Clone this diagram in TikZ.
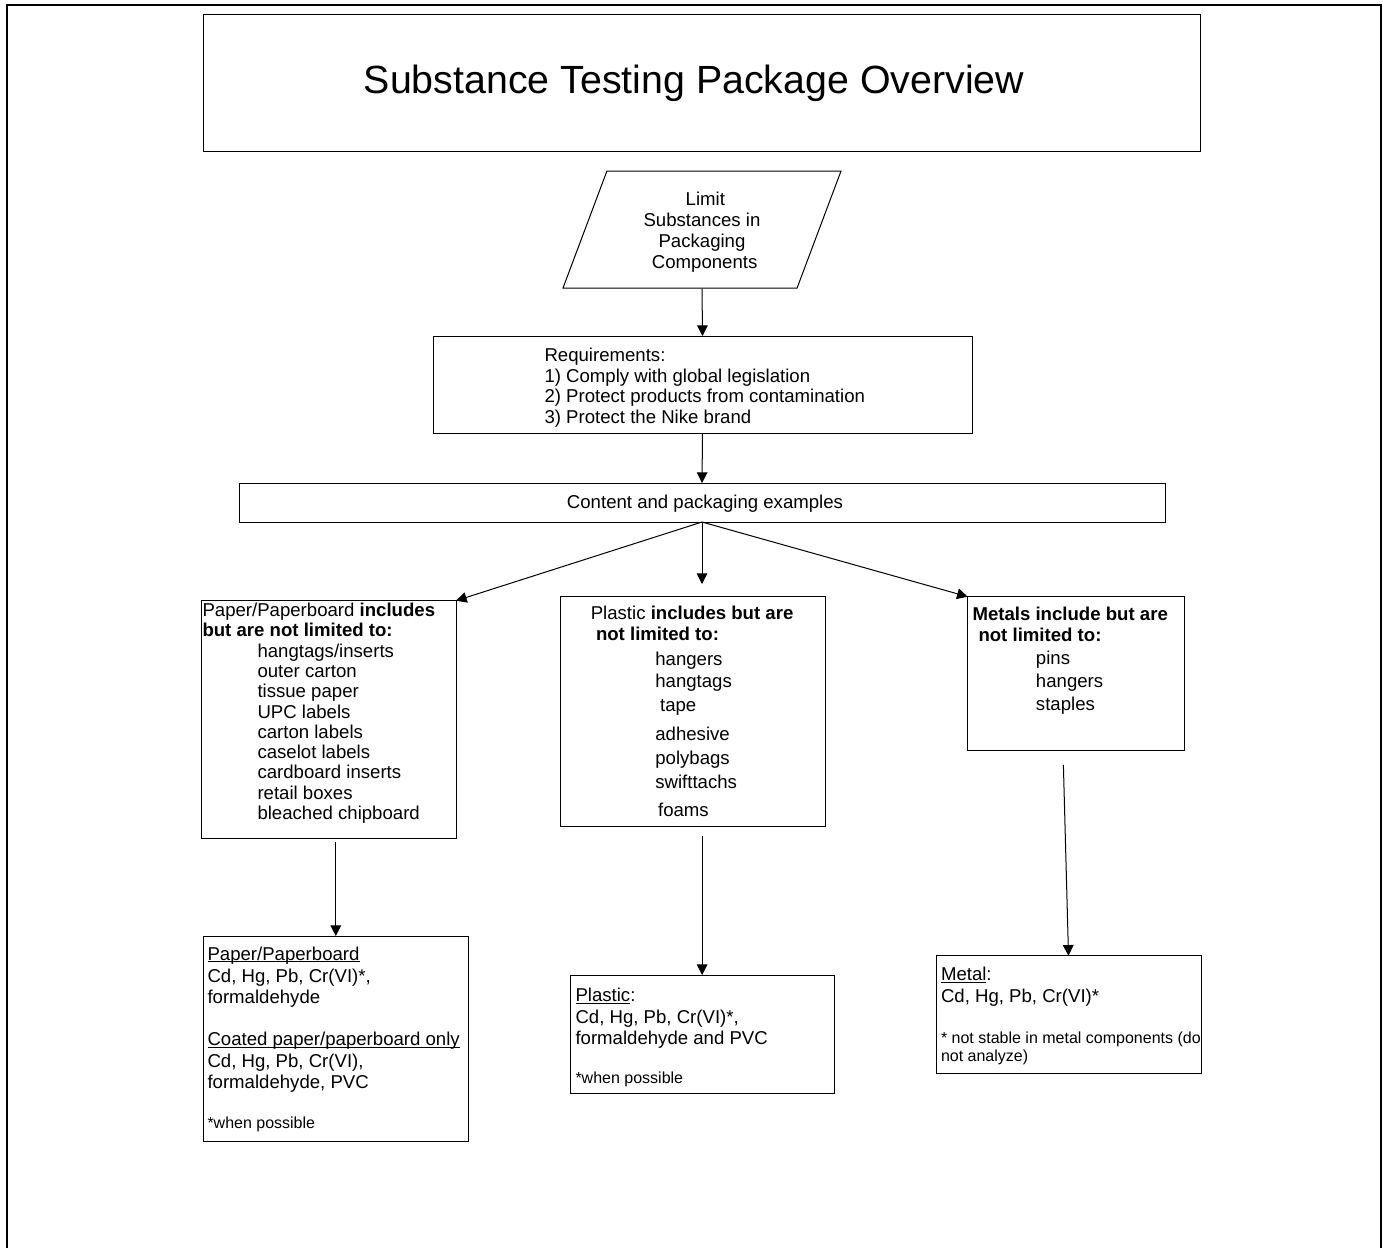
\documentclass[tikz,border=0pt]{standalone}
\usepackage{fontspec}
\setmainfont{Liberation Sans}
\usetikzlibrary{arrows.meta,shapes.geometric}

\tikzset{every picture/.style={line width=0.75pt}}
\tikzset{
  box/.style={draw, rectangle, inner sep=0pt, outer sep=0pt},
  body/.style={font=\fontsize{13.95}{15.75}\selectfont},
  arr/.style={-{Triangle[length=8pt,width=8pt]}}
}
\newcommand{\notesize}{\fontsize{12}{13.8}\selectfont}
\newcommand{\undr}[1]{\setbox0\hbox{#1}\rlap{\rule[-1.7pt]{\wd0}{0.7pt}}\box0}

\begin{document}
\begin{tikzpicture}[x=0.75pt,y=0.75pt,yscale=-1,xscale=1]
\useasboundingbox (0,0) rectangle (1383,1247);

%Outer frame
\draw [line width=1.5pt] (6.7,1260) -- (6.7,5.3) -- (1380.5,5.3) -- (1380.5,1260) ;

%Title
\draw (702,83) node (title) [box, minimum width=747.75pt, minimum height=102.75pt, font=\fontsize{29.5}{34}\selectfont] {Substance Testing Package Overview\hspace*{12pt}};

%Parallelogram
\draw (702,229.5) node (limit) [draw, trapezium, trapezium left angle=63, trapezium right angle=117, trapezium stretches body, minimum width=208.5pt, minimum height=87.75pt, inner sep=0pt, body, align=center] {\rule{0pt}{14.5pt}\hspace*{5pt}Limit\\Substances in\\Packaging\\\hspace*{4pt}Components};

%Requirements
\draw (702.5,384.5) node (req) [box, minimum width=404.25pt, minimum height=72.75pt] {};
% Text Node
\draw (544,347.7) node (reqtxt) [anchor=north west][inner sep=0pt] [body, align=left] {Requirements:\\[-0.3pt]1) Comply with global legislation\\[-0.3pt]2) Protect products from contamination\\[-0.3pt]3) Protect the Nike brand};

%Content
\draw (702,502.5) node (content) [box, minimum width=694.5pt, minimum height=29.25pt] {};
% Text Node
\draw (705,504) node (contenttxt) [inner sep=0pt] [body] {Content and packaging examples};

%Component boxes
\draw (201,600.7) node (paper) [box, anchor=north west, minimum width=191.25pt, minimum height=178pt] {};
\draw (560,596) node (plastic) [box, anchor=north west, minimum width=198.75pt, minimum height=173pt] {};
\draw (967.7,596.7) node (metals) [box, anchor=north west, minimum width=162.45pt, minimum height=115.7pt] {};

%Limit boxes
\draw (203.3,936) node (paperlim) [box, anchor=north west, minimum width=198.75pt, minimum height=154.3pt] {};
\draw (570,975) node (plasticlim) [box, anchor=north west, minimum width=198.2pt, minimum height=88.5pt] {};
\draw (936,955.7) node (metallim) [box, anchor=north west, minimum width=198.75pt, minimum height=88.2pt] {};

% Text Node
\draw (202,602.7) node (papertxt) [anchor=north west][inner sep=0pt] [font=\fontsize{13.95}{15.2}\selectfont, align=left] {Paper/Paperboard \textbf{includes}\\\textbf{but are not limited to:}\\\hspace*{41.25pt}hangtags/inserts\\\hspace*{41.25pt}outer carton\\\hspace*{41.25pt}tissue paper\\\hspace*{41.25pt}UPC labels\\\hspace*{41.25pt}carton labels\\\hspace*{41.25pt}caselot labels\\\hspace*{41.25pt}cardboard inserts\\\hspace*{41.25pt}retail boxes\\\hspace*{41.25pt}bleached chipboard};
% Text Node
\draw (590.3,605.7) node (plastictxt) [anchor=north west][inner sep=0pt] [body, align=left] {Plastic \textbf{includes but are}\\\hspace*{3.9pt}\textbf{not limited to:}\\[3pt]\hspace*{48.4pt}hangers\\[0.75pt]\hspace*{48.4pt}hangtags\\[2.25pt]\hspace*{52pt}tape\\[6pt]\hspace*{48.4pt}adhesive\\[2.25pt]\hspace*{48.4pt}polybags\\[2.25pt]\hspace*{48.4pt}swifttachs\\[5.25pt]\hspace*{50.5pt}foams};
% Text Node
\draw (972,606.7) node (metalstxt) [anchor=north west][inner sep=0pt] [body, align=left] {\textbf{Metals include but are}\\\hspace*{4.5pt}\textbf{not limited to:}\\[1.5pt]\hspace*{47.6pt}pins\\[1.5pt]\hspace*{47.6pt}hangers\\[1.5pt]\hspace*{47.6pt}staples};
% Text Node
\draw (207,946) node (paperlimtxt) [anchor=north west][inner sep=0pt] [body, align=left] {\undr{Paper/Paperboard}\\[1pt]Cd, Hg, Pb, Cr(VI)*,\\formaldehyde\\[15.75pt]\undr{Coated paper/paperboard only}\\[1pt]Cd, Hg, Pb, Cr(VI),\\formaldehyde, PVC\\[14pt]{\notesize *when possible}};
% Text Node
\draw (575,987.2) node (plasticlimtxt) [anchor=north west][inner sep=0pt] [body, align=left] {\undr{Plastic}:\\[0.75pt]Cd, Hg, Pb, Cr(VI)*,\\formaldehyde and PVC\\[14pt]{\notesize *when possible}};
% Text Node
\draw (940.5,966.5) node (metallimtxt) [anchor=north west][inner sep=0pt] [body, align=left] {\undr{Metal}:\\[0.75pt]Cd, Hg, Pb, Cr(VI)*\\[14.75pt]{\notesize * not stable in metal components (do}\\[-1.95pt]{\notesize not analyze)}};

%Connectors
\draw [arr] (limit.south) -- (req.north);
\draw [arr] (req.south) -- (content.north);
\draw [arr] (content.south) -- (paper.north east);
\draw [arr, shorten >=9pt] (content.south) -- (content.south |- plastic.north);
\draw [arr] (content.south) -- (metals.north west);
\draw [arr, shorten <=3pt] (paperlim.north |- paper.south) -- (paperlim.north);
\draw [arr, shorten <=7pt] (plasticlim.north |- plastic.south) -- (plasticlim.north);
\draw [arr, shorten <=10.5pt] ([xshift=-9.75pt]metals.south) -- (metallim.north);
\end{tikzpicture}
\end{document}
